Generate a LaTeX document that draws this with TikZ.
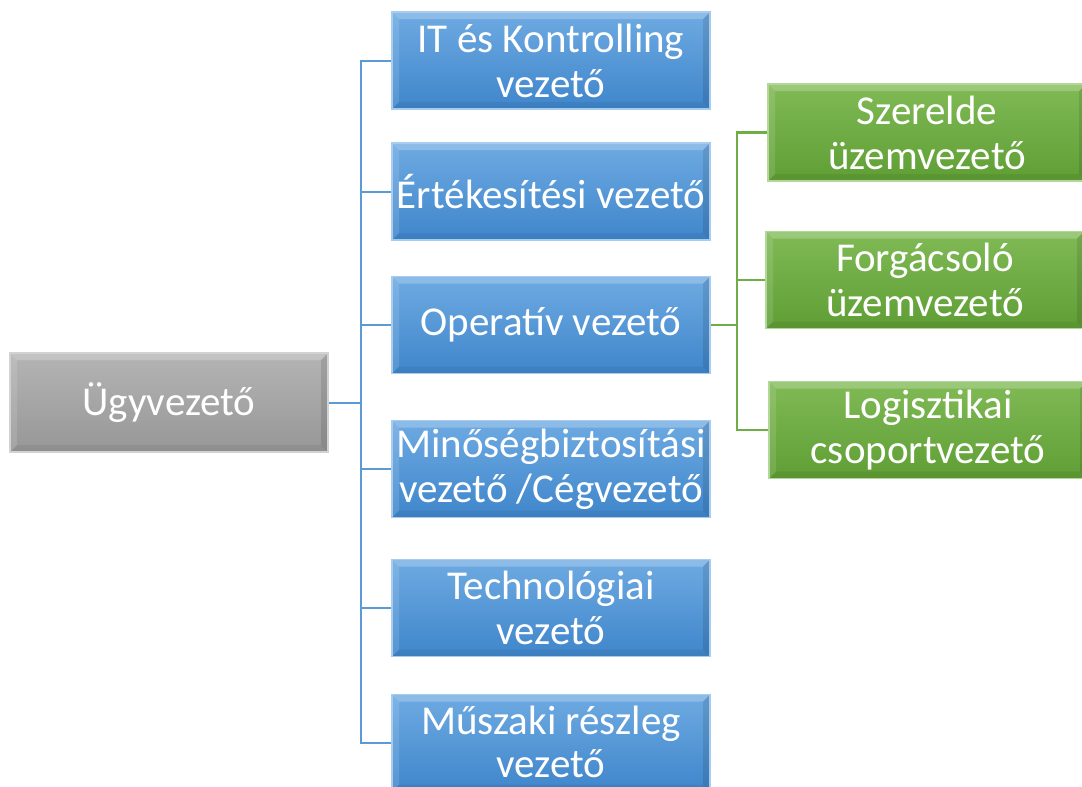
\documentclass[tikz,border=0pt]{standalone}
\usepackage{fontspec}
\setmainfont{Carlito}
\usetikzlibrary{shadings}
\definecolor{bluetop}{HTML}{6EAAE2}
\definecolor{bluebot}{HTML}{3F86CB}
\definecolor{blueline}{HTML}{5B9BD5}
\definecolor{greytop}{HTML}{B4B4B4}
\definecolor{greybot}{HTML}{979797}
\definecolor{greentop}{HTML}{80BA55}
\definecolor{greenbot}{HTML}{5F9E35}
\definecolor{greenline}{HTML}{70AD47}
\tikzset{
  bevel/.style={path picture={
    \coordinate (pa) at (path picture bounding box.north west);
    \coordinate (pb) at (path picture bounding box.north east);
    \coordinate (pc) at (path picture bounding box.south east);
    \coordinate (pd) at (path picture bounding box.south west);
    \fill[white,opacity=0.22] (pa) -- (pb) -- ([xshift=-7pt,yshift=-7pt]pb) -- ([xshift=7pt,yshift=-7pt]pa) -- cycle;
    \fill[white,opacity=0.12] (pa) -- ([xshift=7pt,yshift=-7pt]pa) -- ([xshift=7pt,yshift=7pt]pd) -- (pd) -- cycle;
    \fill[black,opacity=0.10] (pb) -- (pc) -- ([xshift=-7pt,yshift=7pt]pc) -- ([xshift=-7pt,yshift=-7pt]pb) -- cycle;
    \fill[black,opacity=0.06] (pd) -- (pc) -- ([xshift=-7pt,yshift=7pt]pc) -- ([xshift=7pt,yshift=7pt]pd) -- cycle;
  }},
  box/.style={rectangle, inner sep=2pt, align=center, text=white,
    font=\fontsize{41}{45}\selectfont, line width=1.2pt, bevel},
  bluebox/.style={box, minimum width=318pt, minimum height=97pt,
    top color=bluetop, bottom color=bluebot, draw=bluetop!60!white},
  greybox/.style={box, minimum width=318pt, minimum height=99pt,
    top color=greytop, bottom color=greybot, draw=greytop!60!white},
  greenbox/.style={box, minimum width=318pt, minimum height=97pt,
    top color=greentop, bottom color=greenbot, draw=greentop!60!white},
  bconn/.style={draw=blueline, line width=2pt},
  gconn/.style={draw=greenline, line width=2.4pt},
}
\begin{document}
\begin{tikzpicture}[x=1pt,y=-1pt]
\useasboundingbox (0,0) rectangle (1082,787);
\clip (0,0) rectangle (1082,787);
\fill[white] (0,0) rectangle (1082,787);
% root
\node[greybox] (ceo) at (169,402.5) {Ügyvezető};
% blue column
\node[bluebox] (it)   at (551,60.5)  {IT és Kontrolling\\vezető};
\node[bluebox] (ert)  at (551,191.5) {Értékesítési vezető};
\node[bluebox] (op)   at (551,325)   {Operatív vezető};
\node[bluebox] (min)  at (551,469)   {Minőségbiztosítási\\vezető /Cégvezető};
\node[bluebox] (tech) at (551,608)   {Technológiai\\vezető};
\node[bluebox, font=\fontsize{41}{43}\selectfont] (musz) at (551,743)   {\raisebox{3pt}{Műszaki részleg}\\\raisebox{3pt}{vezető}};
% green column
\node[greenbox] (sz)  at (927,132.5) {Szerelde\\üzemvezető};
\node[greenbox] (fo)  at (925,280)   {Forgácsoló\\üzemvezető};
\node[greenbox] (lo)  at (928,430)   {Logisztikai\\csoportvezető};
% blue connectors
\coordinate (bus) at (361,402.5);
\draw[bconn] (ceo.east) -- (bus);
\foreach \n in {it,ert,op,min,tech,musz}
  \draw[bconn] (\n.west) -- (bus |- \n.west) -- (bus);
% green connectors
\coordinate (gbus) at (737,325);
\draw[gconn] (op.east) -- (gbus);
\foreach \n in {sz,fo,lo}
  \draw[gconn] (\n.west) -- (gbus |- \n.west) -- (gbus);
\end{tikzpicture}
\end{document}
